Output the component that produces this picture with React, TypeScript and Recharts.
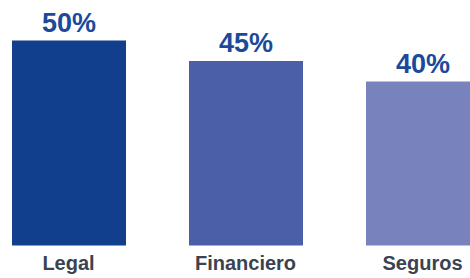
import React from "react";
import { BarChart, Bar, XAxis, YAxis, Cell, LabelList } from "recharts";

const categories = ["Legal", "Financiero", "Seguros"];
const values = [50, 45, 40];

const COLORS = ["#123F8D", "#4A5FA7", "#7883BE"];
const FONT = "'Liberation Sans', Arial, Helvetica, sans-serif";

const data = categories.map((name, i) => ({ name, value: values[i] }));

const App: React.FC = () => {
  return (
    <div
      style={{
        position: "fixed",
        left: 0,
        top: 0,
        width: 470,
        height: 278,
        overflow: "hidden",
        background: "#fff",
      }}
    >
      {/* the original chart is cropped on both sides, so the svg is wider than the window */}
      <div style={{ position: "absolute", left: -20.5, top: 0 }}>
        <BarChart
          width={531}
          height={278}
          data={data}
          margin={{ top: 40.5, right: 0, bottom: 0, left: 0 }}
        >
          <XAxis
            dataKey="name"
            axisLine={false}
            tickLine={false}
            tickSize={6}
            tickMargin={4}
            height={32.5}
            interval={0}
            tick={{ fill: "#3B4350", fontSize: 20, fontWeight: 700, fontFamily: FONT }}
          />
          <YAxis hide domain={[0, 50]} />
          <Bar dataKey="value" barSize={114} isAnimationActive={false}>
            {data.map((_, index) => (
              <Cell key={index} fill={COLORS[index % COLORS.length]} />
            ))}
            <LabelList
              dataKey="value"
              position="top"
              offset={9}
              formatter={(v: any) => `${v}%`}
              fill="#1B4A9B"
              fontSize={27}
              fontWeight={700}
              fontFamily={FONT}
            />
          </Bar>
        </BarChart>
      </div>
    </div>
  );
};

export default App;
